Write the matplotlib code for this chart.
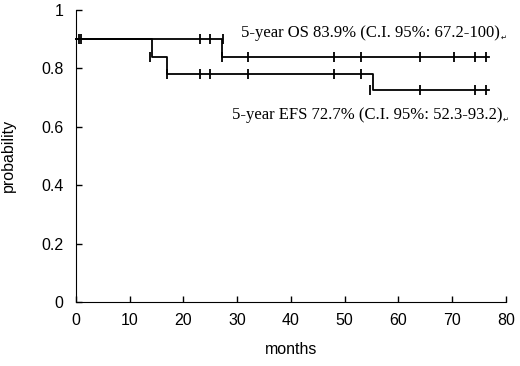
import matplotlib
matplotlib.use("Agg")
from matplotlib import pyplot as plt

# Kaplan-Meier step curves
os_times = [0, 27.2, 76.9]
os_surv = [0.9, 0.839, 0.839]
os_censor_hi = [0.5, 1.0, 23.1, 24.9, 27.4]
os_censor_lo = [27.2, 32.0, 48.1, 53.0, 64.0, 70.3, 74.2, 76.3]

efs_times = [0, 14.2, 17.0, 55.2, 76.9]
efs_surv = [0.9, 0.84, 0.78, 0.727, 0.727]
efs_censor = [(13.8, 0.84), (17.0, 0.78), (23.1, 0.78), (24.9, 0.78), (32.0, 0.78),
              (48.1, 0.78), (53.0, 0.78), (54.7, 0.727), (64.0, 0.727),
              (74.2, 0.727), (76.3, 0.727)]

os_label = "5-year OS 83.9% (C.I. 95%: 67.2-100)"
efs_label = "5-year EFS 72.7% (C.I. 95%: 52.3-93.2)"

x_ticks = [0, 10, 20, 30, 40, 50, 60, 70, 80]
y_ticks = [0, 0.2, 0.4, 0.6, 0.8, 1]
y_tick_labels = ["0", "0.2", "0.4", "0.6", "0.8", "1"]

plt.rcParams['font.family'] = ['Liberation Sans', 'DejaVu Sans']

fig = plt.figure(figsize=(5.2, 3.66), dpi=100)
ax = fig.add_axes([0.146, 0.175, 0.827, 0.798])

lw = 1.3
ax.step(os_times, os_surv, where='post', color='black', lw=lw, clip_on=False)
ax.step(efs_times, efs_surv, where='post', color='black', lw=lw, clip_on=False)

ax.plot(os_censor_hi, [os_surv[0]] * len(os_censor_hi), ls='none', marker='|',
        ms=7, mew=lw, color='black', clip_on=False)
ax.plot(os_censor_lo, [os_surv[1]] * len(os_censor_lo), ls='none', marker='|',
        ms=7, mew=lw, color='black', clip_on=False)
ax.plot([c[0] for c in efs_censor], [c[1] for c in efs_censor], ls='none', marker='|',
        ms=7, mew=lw, color='black', clip_on=False)

ax.set_xlim(0, 80)
ax.set_ylim(0, 1)
ax.set_xticks(x_ticks)
ax.set_yticks(y_ticks)
ax.set_yticklabels(y_tick_labels)
ax.tick_params(direction='in', length=4, width=1, labelsize=11.5)
ax.tick_params(axis='y', pad=9)
ax.tick_params(axis='x', pad=8)
ax.spines['top'].set_visible(False)
ax.spines['right'].set_visible(False)
ax.set_xlabel('months', fontsize=11.5, labelpad=10)
ax.set_ylabel('probability', fontsize=11.5, labelpad=18)

serif = ['Liberation Serif', 'DejaVu Serif']
t1 = ax.text(30.8, 0.92, os_label, family=serif, fontsize=12, va='center', ha='left')
t2 = ax.text(29.0, 0.64, efs_label, family=serif, fontsize=12, va='center', ha='left')

# little Word return marks right after the labels
fig.canvas.draw()
r = fig.canvas.get_renderer()
for t in (t1, t2):
    bb = t.get_window_extent(r)
    x_end, _ = ax.transData.inverted().transform((bb.x1, bb.y0))
    _, y_txt = t.get_position()
    ax.text(x_end + 0.15, y_txt - 0.015, "\u21b5", family=['DejaVu Sans'],
            fontsize=5, va='center', ha='left', clip_on=False)

fig.savefig('out.png', dpi=100)
